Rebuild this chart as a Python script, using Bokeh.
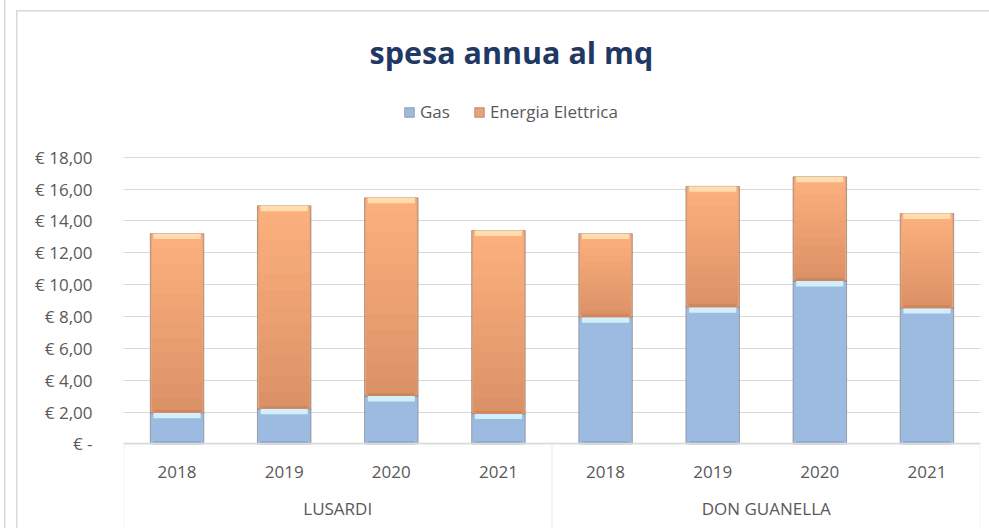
from bokeh.plotting import figure
from bokeh.models import (FactorRange, Range1d, FixedTicker, Legend, LegendItem,
                          ColumnDataSource, BoxAnnotation)
from bokeh.embed import file_html
from bokeh.resources import INLINE

# ---- data ----
groups = ["LUSARDI", "DON GUANELLA"]
years = ["2018", "2019", "2020", "2021"]
gas = [1.95, 2.20, 3.00, 1.90, 7.95, 8.58, 10.23, 8.52]
energia = [11.25, 12.75, 12.45, 11.50, 5.25, 7.59, 6.54, 5.94]
y_ticks = [0, 2, 4, 6, 8, 10, 12, 14, 16, 18]
y_tick_labels = ["€ -", "€ 2,00", "€ 4,00", "€ 6,00", "€ 8,00", "€ 10,00",
                 "€ 12,00", "€ 14,00", "€ 16,00", "€ 18,00"]
series = ["Gas", "Energia Elettrica"]

factors = [(g, y) for g in groups for y in years]
total = [a + b for a, b in zip(gas, energia)]

FONT = "Open Sans"
LABEL_COLOR = "#595959"
GRID = "#D9D9D9"

x_range = FactorRange(*factors, factor_padding=0, group_padding=0, range_padding=0)
# the frame also covers the legend band (top) and the category box (bottom);
# the x axis is pinned at y = 0
p = figure(width=989, height=528, x_range=x_range, y_range=Range1d(-5.3125, 21.5625),
           output_backend="svg", toolbar_location=None,
           min_border_left=123, min_border_right=9, min_border_top=98,
           min_border_bottom=0)
p.outline_line_color = None
p.background_fill_color = "white"
p.border_fill_color = None
p.styles = {
    "background-color": "white",
    "background-image": ("linear-gradient(#D9D9D9,#D9D9D9), "
                         "linear-gradient(#D9D9D9,#D9D9D9), "
                         "linear-gradient(#D9D9D9,#D9D9D9)"),
    "background-size": "1.5px 100%, 100% 1.5px, 1.5px 100%",
    "background-position": "16px 10px, 16px 10px, 4px 0px",
    "background-repeat": "no-repeat",
}

src = ColumnDataSource(dict(x=factors, Gas=gas, Energia=energia))

renderers = p.vbar_stack(["Gas", "Energia"], x="x", width=0.5, source=src,
                         fill_color=["#9DBAE1", "#EFA173"],
                         line_color="#6f6f6f", line_alpha=0.55, line_width=1)

# soft vertical shading of the orange segments (cumulative overlapping bands)
band_cols = ["#FAAF7D", "#F8AD7B", "#F6AA79", "#F3A877", "#F1A575", "#EEA273",
             "#EBA071", "#E89D6F", "#E59A6D", "#E2986B", "#DF9569", "#DC9267"]
nb = len(band_cols)
for k, col in enumerate(band_cols):
    tops = [t - (t - g) * k / nb for g, t in zip(gas, total)]
    p.vbar(x=factors, top=tops, bottom=gas, width=0.47,
           fill_color=col, line_color=None)

# bevel-like highlight strips on the top / bottom of each segment
bev = 0.34
src_b = ColumnDataSource(dict(
    x=factors,
    g_top=gas, g_bot=[v - bev for v in gas],
    e_top=total, e_bot=[v - bev for v in total],
    g_low=[0 for _ in gas], g_low_top=[bev * 0.55 for _ in gas],
    e_low=gas, e_low_top=[v + bev * 0.55 for v in gas],
))
p.vbar(x="x", top="g_top", bottom="g_bot", width=0.44, source=src_b,
       fill_color="#D3EEFC", line_color=None)
p.vbar(x="x", top="e_top", bottom="e_bot", width=0.44, source=src_b,
       fill_color="#FFDDAE", line_color=None)
p.vbar(x="x", top="g_low_top", bottom="g_low", width=0.44, source=src_b,
       fill_color="#8DA9D0", line_color=None)
p.vbar(x="x", top="e_low_top", bottom="e_low", width=0.44, source=src_b,
       fill_color="#CF855D", line_color=None)

# y axis
p.yaxis.ticker = FixedTicker(ticks=y_ticks)
p.yaxis.major_label_overrides = {t: lab for t, lab in zip(y_ticks, y_tick_labels)}
p.yaxis.axis_line_color = None
p.yaxis.major_tick_line_color = None
p.yaxis.minor_tick_line_color = None
p.yaxis.major_label_standoff = 25
p.yaxis.major_label_text_font = FONT
p.yaxis.major_label_text_font_size = "17px"
p.yaxis.major_label_text_color = LABEL_COLOR
p.ygrid.grid_line_color = GRID
p.ygrid.ticker = FixedTicker(ticks=y_ticks)
p.xgrid.grid_line_color = None

# x axis (nested categories), pinned at zero
xa = p.xaxis[0]
xa.fixed_location = 0
xa.axis_line_color = GRID
xa.axis_line_width = 1.5
xa.major_tick_line_color = None
xa.minor_tick_line_color = None
xa.major_label_standoff = 16
xa.axis_label_standoff = 0
xa.major_label_text_font = FONT
xa.major_label_text_font_size = "17px"
xa.major_label_text_color = LABEL_COLOR
xa.group_text_font = FONT
xa.group_text_font_size = "17px"
xa.group_text_font_style = "normal"
xa.group_text_color = LABEL_COLOR
xa.separator_line_color = None

# box lines of the category axis area (outer box + group separator)
n_all, n_grp = len(factors), len(years)
p.add_layout(BoxAnnotation(left=0.006, right=n_all - 0.006, top=0, bottom=-20,
                           fill_color=None, line_color=GRID, line_width=1.5,
                           level="underlay"))
p.add_layout(BoxAnnotation(left=n_grp, right=n_grp, top=0, bottom=-20,
                           fill_color=None, line_color=GRID, line_width=1.5,
                           level="underlay"))

# title
p.title.text = "spesa annua al mq"
p.title.align = "left"
p.title.offset = 246
p.title.standoff = 56
p.title.text_font = FONT
p.title.text_font_style = "bold"
p.title.text_font_size = "30.5px"
p.title.text_color = "#1F3864"

# legend (inside the frame's upper band)
legend = Legend(items=[LegendItem(label=series[0], renderers=[renderers[0]]),
                       LegendItem(label=series[1], renderers=[renderers[1]])],
                orientation="horizontal", location=(280, 405),
                border_line_color=None, background_fill_color=None,
                label_text_font=FONT, label_text_font_size="17px",
                label_text_color=LABEL_COLOR, glyph_width=12, glyph_height=12,
                spacing=23, label_standoff=5, padding=0, margin=0)
p.add_layout(legend, "center")

open("out.html", "w").write(file_html(p, INLINE))
